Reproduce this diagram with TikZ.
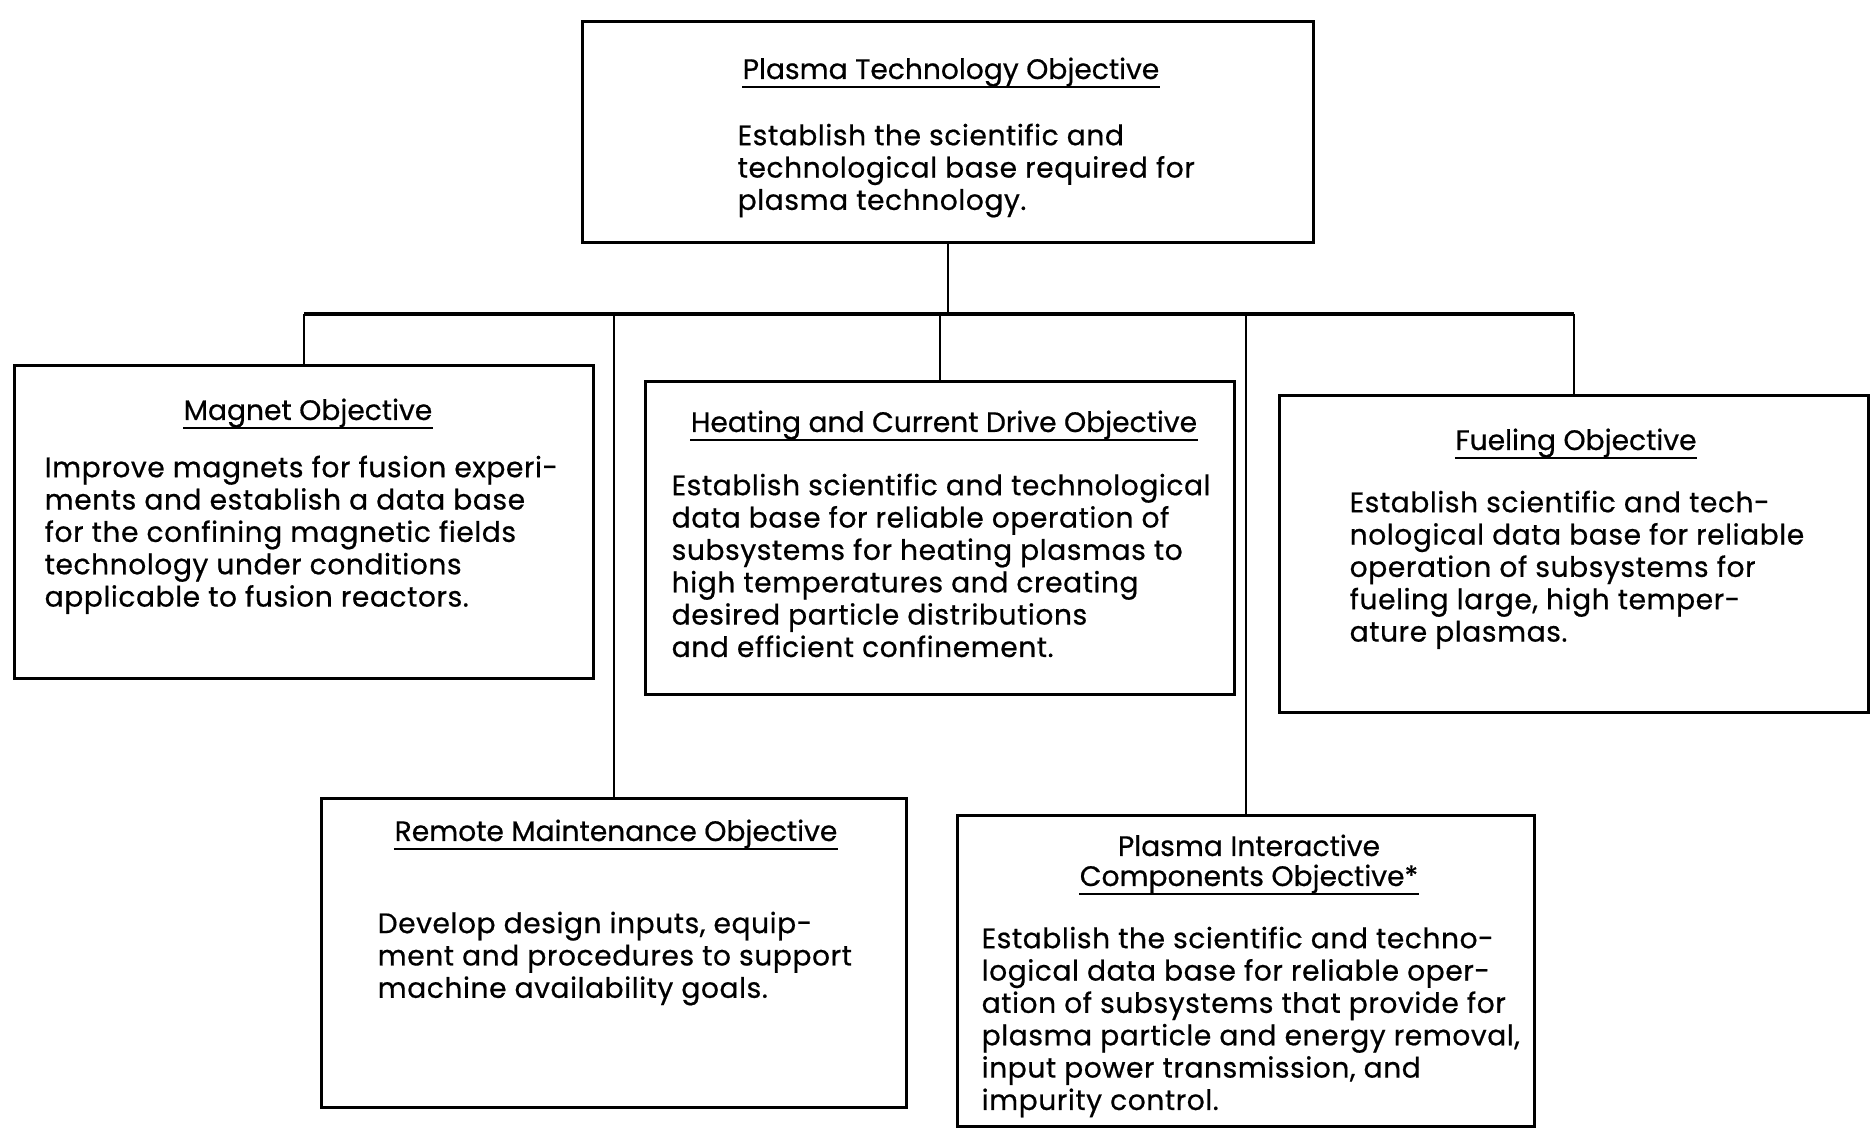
\documentclass[tikz,border=0pt]{standalone}
\usepackage{fontspec}
\setmainfont{Poppins}[FakeBold=0.6]
\newfontfamily\spacedfont{Poppins}[LetterSpace=2,FakeBold=0.6]
\begin{document}
\begin{tikzpicture}[x=0.01cm,y=-0.01cm,
    objbox/.style={draw,line width=0.9pt,inner sep=0pt},
    head/.style={inner sep=0pt,anchor=base,font=\fontsize{8}{9.2}\selectfont},
    body/.style={inner sep=0pt,anchor=north west,align=left,font=\spacedfont\fontsize{8}{9.2}\selectfont}]
\useasboundingbox (0,0) rectangle (1872,1137);
\node[objbox,minimum width=7.30cm,minimum height=2.21cm](ptobj)at(948,132){};
\node[objbox,minimum width=5.79cm,minimum height=3.13cm](magnet)at(304,522){};
\node[objbox,minimum width=5.89cm,minimum height=3.13cm](heat)at(940,538){};
\node[objbox,minimum width=5.89cm,minimum height=3.16cm](fuel)at(1574,554){};
\node[objbox,minimum width=5.85cm,minimum height=3.09cm](remote)at(614,953){};
\node[objbox,minimum width=5.76cm,minimum height=3.11cm](pic)at(1246,971){};
\node[head](ptobjt)at(951,79){Plasma Technology Objective};
\node[body](ptobjb)at(737,123){Establish the scientific and\\technological base required for\\plasma technology.};
\node[head](magnett)at(308,420){Magnet Objective};
\node[body](magnetb)at(44,455){Improve magnets for fusion experi-\\ments and establish a data base\\for the confining magnetic fields\\technology under conditions\\applicable to fusion reactors.};
\node[head](heatt)at(944,432){Heating and Current Drive Objective};
\node[body](heatb)at(671,473){Establish scientific and technological\\data base for reliable operation of\\subsystems for heating plasmas to\\high temperatures and creating\\desired particle distributions\\and efficient confinement.};
\node[head](fuelt)at(1576,450){Fueling Objective};
\node[body](fuelb)at(1349,490){Establish scientific and tech-\\nological data base for reliable\\operation of subsystems for\\fueling large, high temper-\\ature plasmas.};
\node[head](remotet)at(616,841){Remote Maintenance Objective};
\node[body](remoteb)at(377,911){Develop design inputs, equip-\\ment and procedures to support\\machine availability goals.};
\node[head](pict1)at(1249,856){Plasma Interactive};
\node[head](pict)at(1249,886){Components Objective*};
\node[body](picb)at(981,926){Establish the scientific and techno-\\logical data base for reliable oper-\\ation of subsystems that provide for\\plasma particle and energy removal,\\input power transmission, and\\impurity control.};
\foreach \t in {ptobjt,magnett,heatt,fuelt,remotet,pict}
    \draw[line width=0.6pt]([yshift=-2.4pt]\t.base west)--([yshift=-2.4pt]\t.base east);
\coordinate(bus)at(0,314);
\draw[line width=0.6pt](ptobj.south)--(ptobj.south|-bus);
\draw[line width=1pt](magnet.north|-bus)--(fuel.north|-bus);
\foreach \b in {magnet,heat,fuel,remote,pic}
    \draw[line width=0.6pt](\b.north)--(\b.north|-bus);
\end{tikzpicture}
\end{document}
